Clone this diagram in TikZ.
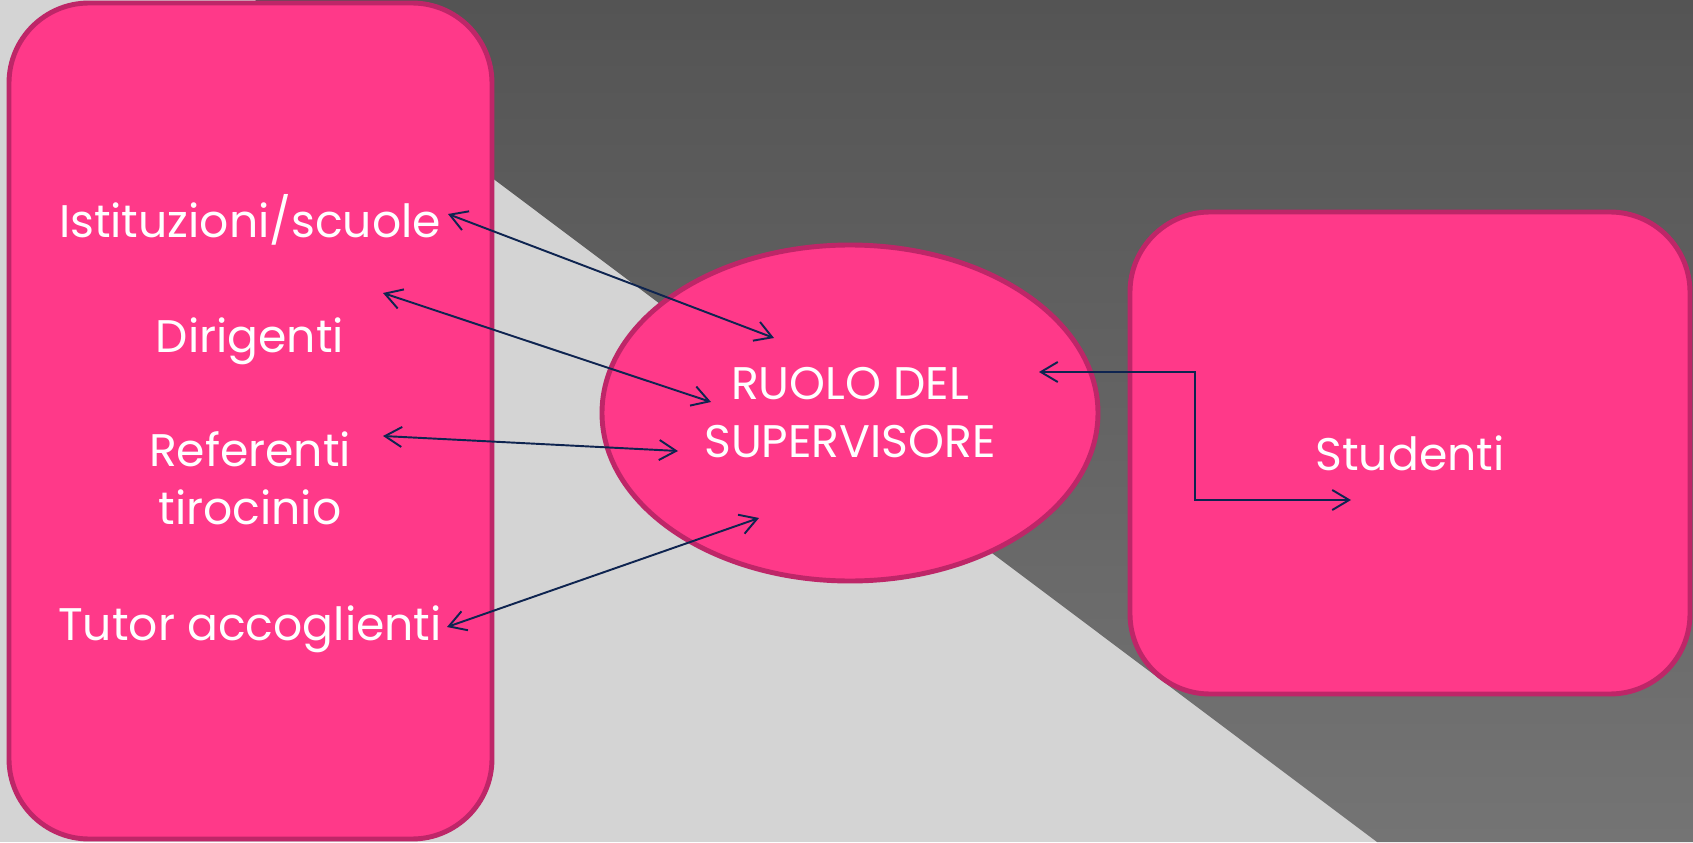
\documentclass[tikz,border=0pt]{standalone}
\usepackage{fontspec}
\setmainfont{Poppins}
\usepackage{xcolor}
\usetikzlibrary{shapes.geometric, arrows.meta, positioning, calc}

\definecolor{rosa}{RGB}{255,57,137}
\definecolor{rosabordo}{RGB}{190,38,104}
\definecolor{grigiochiaro}{RGB}{212,212,212}
\definecolor{grigioalto}{RGB}{84,84,84}
\definecolor{grigiobasso}{RGB}{116,116,116}
\definecolor{freccia}{RGB}{14,36,80}

\tikzset{
    riquadro/.style={draw=rosabordo, fill=rosa, line width=1.4pt, rounded corners=0.8cm},
    testo/.style={text=white, font=\fontsize{13}{16.5}\selectfont, align=center},
    legame/.style={freccia, line width=0.55pt, {Straight Barb[length=4.8pt,width=5.7pt]}-{Straight Barb[length=4.8pt,width=5.7pt]}},
}

\begin{document}
\begin{tikzpicture}
    \useasboundingbox (0,0) rectangle (16.93,8.42);
    % sfondo
    \fill[grigiochiaro] (0,0) rectangle (16.93,8.42);
    \shade[top color=grigioalto, bottom color=grigiobasso] (2.55,8.42) -- (16.93,8.42) -- (16.93,0) -- (13.77,0) -- cycle;

    % riquadri
    \node[riquadro, minimum width=4.83cm, minimum height=8.36cm] (sinistra) at (2.505,4.21) {};
    \node[riquadro, testo, minimum width=5.6cm, minimum height=4.82cm] (studenti) at (14.10,3.89) {Studenti};
    \node[draw=rosabordo, fill=rosa, line width=1.4pt, ellipse, testo, minimum width=4.96cm, minimum height=3.36cm] (ruolo) at (8.50,4.29) {RUOLO DEL\\SUPERVISORE};

    % voci a sinistra
    \node[testo] (ist) at (2.50,6.22) {Istituzioni/scuole};
    \node[testo] (dir) at (2.50,5.01) {Dirigenti};
    \node[testo] (ref) at (2.50,3.64) {Referenti\\tirocinio};
    \node[testo] (tut) at (2.50,2.13) {Tutor accoglienti};

    % estremi delle frecce
    \coordinate (ist-a) at (4.48,6.28);
    \coordinate (ist-b) at (7.74,5.04);
    \coordinate (dir-a) at (3.83,5.49);
    \coordinate (dir-b) at (7.11,4.40);
    \coordinate (ref-a) at (3.83,4.06);
    \coordinate (ref-b) at (6.78,3.91);
    \coordinate (tut-a) at (4.47,2.15);
    \coordinate (tut-b) at (7.59,3.24);
    \coordinate (stu-a) at (10.39,4.70);
    \coordinate (stu-b) at (13.51,3.42);

    \draw[legame] (ist-a) -- (ist-b);
    \draw[legame] (dir-a) -- (dir-b);
    \draw[legame] (ref-a) -- (ref-b);
    \draw[legame] (tut-a) -- (tut-b);
    \draw[legame] (stu-a) -- (11.95,4.70) -- (11.95,3.42) -- (stu-b);
\end{tikzpicture}
\end{document}
